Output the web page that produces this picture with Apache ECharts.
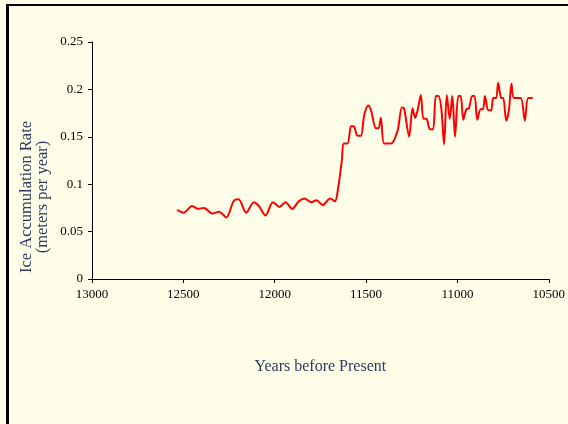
<!DOCTYPE html>
<html>
<head>
<meta charset="utf-8">
<script src="https://cdn.jsdelivr.net/npm/echarts@6/dist/echarts.min.js"></script>
<style>
  html, body { margin: 0; padding: 0; background: #fffee9; }
  #main { width: 568px; height: 424px; }
</style>
</head>
<body>
<div id="main"></div>
<script>
// years before present
let years = [12534, 12498, 12452, 12420, 12387, 12341, 12305, 12265, 12225, 12198,
  12156, 12114, 12087, 12050, 12010, 11974, 11941, 11904, 11868, 11837,
  11801, 11770, 11737, 11697, 11670, 11656, 11632, 11623, 11601, 11582,
  11568, 11546, 11528, 11510, 11488, 11473, 11446, 11432, 11419, 11401,
  11364, 11328, 11304, 11292, 11264, 11246, 11231, 11219, 11200, 11186,
  11170, 11150, 11133, 11118, 11104, 11088, 11073, 11058, 11042, 11028,
  11013, 10995, 10982, 10968, 10951, 10937, 10919, 10906, 10891, 10873,
  10860, 10849, 10831, 10815, 10804, 10788, 10777, 10760, 10749, 10733,
  10718, 10704, 10691, 10654, 10631, 10613, 10587]

// ice accumulation rate, meters per year
let rate = [0.073, 0.070, 0.077, 0.074, 0.075, 0.069, 0.071, 0.065, 0.082, 0.084,
  0.070, 0.081, 0.077, 0.067, 0.081, 0.076, 0.081, 0.074, 0.082, 0.085,
  0.081, 0.083, 0.078, 0.085, 0.082, 0.092, 0.126, 0.143, 0.143, 0.161,
  0.161, 0.151, 0.151, 0.173, 0.183, 0.178, 0.159, 0.159, 0.170, 0.143,
  0.143, 0.156, 0.181, 0.180, 0.150, 0.180, 0.170, 0.177, 0.194, 0.169,
  0.169, 0.158, 0.158, 0.193, 0.193, 0.180, 0.142, 0.194, 0.169, 0.193,
  0.150, 0.193, 0.193, 0.168, 0.179, 0.180, 0.193, 0.193, 0.168, 0.179,
  0.179, 0.193, 0.178, 0.178, 0.191, 0.191, 0.207, 0.191, 0.191, 0.167,
  0.178, 0.206, 0.191, 0.191, 0.167, 0.191, 0.191]

let serif = "'Liberation Serif', 'DejaVu Serif', serif"

var myChart = echarts.init(document.getElementById('main'))

var option = {
    backgroundColor: '#fffee9',
    animation: false,
    grid: { left: 92, right: 18, top: 42, bottom: 145 },
    xAxis: {
        type: 'value',
        inverse: true,
        min: 10500,
        max: 13000,
        interval: 500,
        name: 'Years before Present',
        nameLocation: 'middle',
        nameGap: 80,
        nameTextStyle: { fontFamily: serif, fontSize: 16, color: '#2e3a5c' },
        splitLine: { show: false },
        axisLine: { lineStyle: { color: '#000', width: 1 } },
        axisTick: { length: 4, lineStyle: { color: '#000' } },
        axisLabel: { fontFamily: serif, fontSize: 13, color: '#000', margin: 9, formatter: v => String(v) }
    },
    yAxis: {
        type: 'value',
        min: 0,
        max: 0.25,
        interval: 0.05,
        splitLine: { show: false },
        axisLine: { show: true, lineStyle: { color: '#000', width: 1 } },
        axisTick: { show: true, length: 4, lineStyle: { color: '#000' } },
        axisLabel: { fontFamily: serif, fontSize: 13, color: '#000', margin: 9 }
    },
    graphic: [
        // frame, left and top edges
        { type: 'rect', left: 6, top: 4, shape: { width: 3, height: 420 }, style: { fill: '#000' } },
        { type: 'rect', left: 6, top: 4, shape: { width: 562, height: 2 }, style: { fill: '#000' } },
        {
            type: 'text', x: 27, y: 197, rotation: Math.PI / 2, originX: 0, originY: 0,
            style: { text: 'Ice Accumulation Rate', fontFamily: serif, fontSize: 16.5, fill: '#2e3a5c', align: 'center', verticalAlign: 'middle' }
        },
        {
            type: 'text', x: 43, y: 197, rotation: Math.PI / 2, originX: 0, originY: 0,
            style: { text: '(meters per year)', fontFamily: serif, fontSize: 16.5, fill: '#2e3a5c', align: 'center', verticalAlign: 'middle' }
        }
    ],
    series: [{
        type: 'line',
        data: years.map((y, i) => [y, rate[i]]),
        showSymbol: false,
        smooth: 0.3,
        lineStyle: { color: '#ff0000', width: 2 }
    }]
}

myChart.setOption(option)
</script>
</body>
</html>
